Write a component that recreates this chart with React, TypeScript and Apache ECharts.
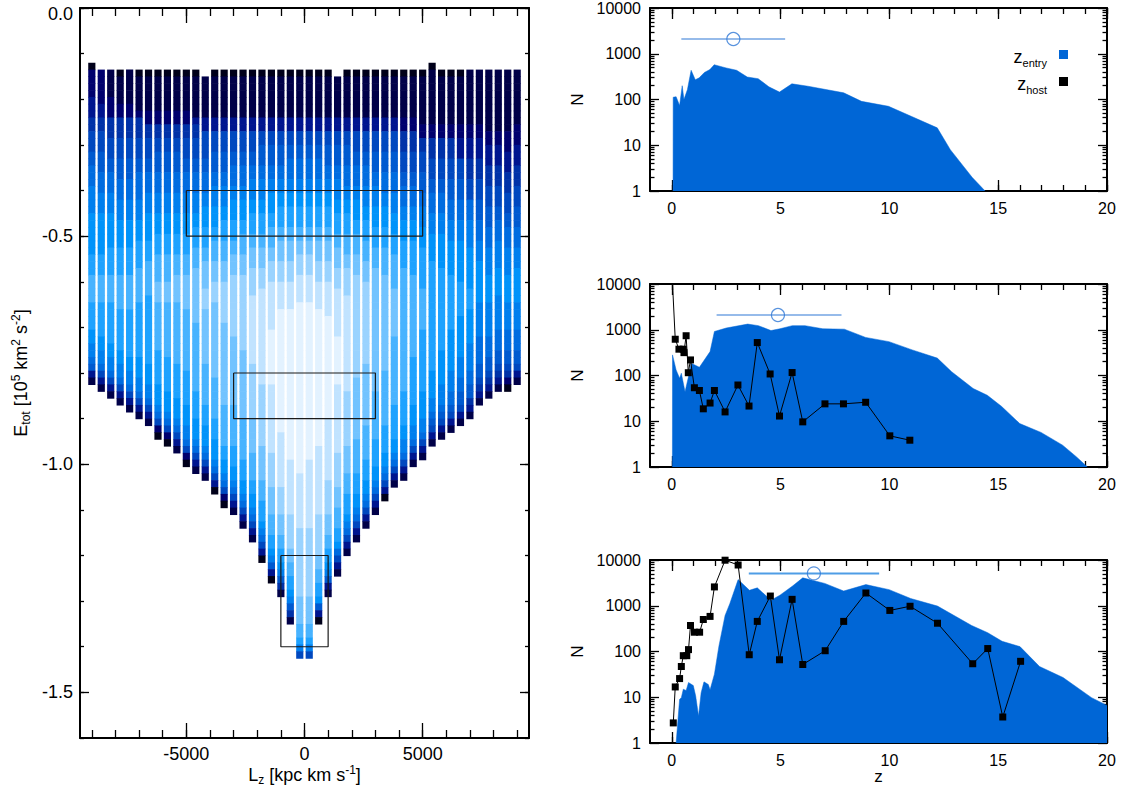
import React, { useEffect, useRef } from "react";
import * as echarts from "echarts";

const FONT = "'Liberation Sans', Arial, Helvetica, sans-serif";

// ---------------- Left panel: E_tot vs L_z density map ----------------
const LZ_CENTERS = [
  -9000, -8600, -8200, -7800, -7400, -7000, -6600, -6200, -5800, -5400, -5000, -4600,
  -4200, -3800, -3400, -3000, -2600, -2200, -1800, -1400, -1000, -600, -200,
  200, 600, 1000, 1400, 1800, 2200, 2600, 3000, 3400, 3800, 4200, 4600, 5000,
  5400, 5800, 6200, 6600, 7000, 7400, 7800, 8200, 8600, 9000,
];
// energy bin index (E = -index * E_BIN) of the first and one-past-last cell of each column
const TOP_ROW = [
  8, 9, 9, 9, 9, 9, 9, 9, 9, 9, 9, 9, 10, 9, 9, 9, 9, 9, 9, 9, 9, 9, 9,
  9, 9, 9, 10, 9, 9, 9, 9, 9, 9, 9, 9, 9, 8, 9, 9, 9, 9, 9, 9, 9, 9, 9,
];
const BOTTOM_ROW = [
  55, 56, 57, 58, 59, 60, 61, 63, 64, 65, 67, 68, 69, 71, 73, 74, 76, 78, 81, 84, 86, 90, 95,
  95, 90, 86, 83, 80, 78, 76, 74, 72, 70, 69, 67, 66, 64, 63, 62, 61, 60, 58, 57, 56, 56, 55,
];
const E_BIN = 0.015;
// per column: "row:level" breakpoints (level 0 = darkest ... f = lightest)
const PROFILES = [
  "8:0 9:2 13:3 16:4 18:5 21:6 23:7 26:8 30:9 36:a 39:b 43:a 47:9 49:8 51:7 52:6 53:3 54:1",
  "9:2 14:3 16:4 18:5 21:6 24:7 27:8 30:9 36:a 39:b 43:a 48:9 50:8 52:7 53:5 54:3 55:1",
  "9:1 13:2 16:4 19:5 22:6 24:7 27:8 30:9 35:a 39:b 43:a 49:9 51:8 53:7 54:5 55:3 56:1",
  "9:0 10:1 14:2 16:4 19:5 22:6 25:7 28:8 31:9 35:a 39:b 44:a 50:9 52:8 54:7 55:5 56:3 57:1",
  "9:1 14:2 16:4 19:5 22:6 25:7 28:8 31:9 35:a 39:b 44:a 51:9 53:8 55:7 56:5 57:3 58:1",
  "9:0 10:1 15:2 16:4 19:5 22:6 24:7 28:8 31:9 34:a 38:b 43:a 51:9 54:8 56:7 57:5 58:3 59:1",
  "9:0 10:1 15:2 17:4 19:5 22:6 24:7 27:8 30:9 34:a 37:b 42:a 52:9 55:8 57:7 58:5 59:3 60:1",
  "9:0 10:1 15:2 17:4 19:5 21:6 24:7 27:8 30:9 33:a 36:b 40:c 43:b 50:a 55:9 58:8 59:7 60:5 61:2 62:0",
  "9:0 10:1 15:2 17:4 19:5 21:6 24:7 27:8 30:9 33:a 36:b 40:c 43:b 51:a 56:9 59:8 60:7 61:5 62:2 63:0",
  "9:0 10:1 15:2 17:4 19:5 21:6 24:7 27:8 30:9 33:a 36:b 39:c 43:b 52:a 57:9 60:8 61:7 62:5 63:3 64:1",
  "9:0 10:1 15:2 17:4 19:5 22:6 24:7 27:8 30:9 33:a 36:b 39:c 44:b 53:a 58:9 61:8 63:7 64:5 65:2 66:0",
  "9:0 10:1 16:3 17:4 19:5 22:6 24:7 27:8 30:9 32:a 35:b 38:c 46:b 56:a 60:9 63:8 64:7 65:5 66:3 67:1",
  "10:1 16:3 18:5 22:6 24:7 27:8 29:9 32:a 35:b 37:c 41:d 44:c 52:b 58:a 61:9 64:8 65:7 66:5 67:3 68:1",
  "9:0 10:1 16:3 18:5 21:6 24:7 26:8 29:9 32:a 34:b 37:c 40:d 43:c 54:b 60:a 63:9 66:8 67:7 68:5 69:3 70:0",
  "9:0 10:1 16:3 18:5 21:6 24:7 26:8 29:9 31:a 34:b 37:c 40:d 46:c 58:b 64:a 66:9 68:8 69:7 70:5 71:2 72:0",
  "9:0 10:1 16:3 18:5 21:6 23:7 26:8 28:9 31:a 34:b 36:c 39:d 48:c 58:b 64:a 67:9 69:8 70:7 71:5 72:3 73:1",
  "9:0 10:1 16:3 18:5 21:6 23:7 26:8 28:9 31:a 33:b 36:c 39:d 50:c 60:b 66:a 69:9 71:8 72:7 73:5 74:3 75:1",
  "9:0 10:1 16:3 18:5 21:6 23:7 25:8 28:9 30:a 33:b 35:c 38:d 42:e 52:d 60:c 65:b 69:a 71:9 73:8 74:7 75:5 76:3 77:1",
  "9:0 10:1 16:3 18:5 20:6 23:7 25:8 28:9 30:a 33:b 35:c 38:d 41:e 55:d 64:c 69:b 72:a 75:9 76:8 77:7 78:5 79:3 80:0",
  "9:0 10:1 16:3 18:5 20:6 23:7 25:8 27:9 30:a 32:b 35:c 37:d 40:e 47:f 55:e 65:d 70:c 74:b 77:a 79:9 80:8 81:6 82:3 83:0",
  "9:0 10:1 16:3 18:5 20:6 23:7 25:8 27:9 29:a 32:b 34:c 37:d 40:e 44:f 62:e 70:d 74:c 77:b 79:a 81:9 82:8 83:6 84:4 85:1",
  "9:0 10:1 16:3 18:5 20:6 22:7 25:8 27:9 29:a 32:b 34:c 37:d 40:e 44:f 66:e 74:d 79:c 81:b 83:a 85:9 86:8 87:6 88:4 89:1",
  "9:0 10:1 16:3 18:5 20:6 22:7 25:8 27:9 29:a 32:b 34:c 36:d 39:e 43:f 68:e 76:d 86:c 90:b 92:a 93:8 94:5",
  "9:0 10:1 16:3 18:5 20:6 22:7 25:8 27:9 29:a 32:b 34:c 36:d 39:e 43:f 66:e 76:d 86:c 90:b 92:a 93:8 94:5",
  "9:0 10:1 16:3 18:5 20:6 22:7 25:8 27:9 29:a 32:b 34:c 37:d 40:e 44:f 64:e 74:d 80:c 82:b 84:a 86:9 87:6 88:3 89:0",
  "9:0 10:1 16:3 18:5 20:6 23:7 25:8 27:9 29:a 32:b 34:c 37:d 40:e 45:f 60:e 69:d 74:c 77:b 79:a 81:9 82:8 83:6 84:3 85:1",
  "10:1 16:3 18:5 20:6 23:7 25:8 28:9 30:a 33:b 35:c 38:d 41:e 48:f 55:e 65:d 70:c 73:b 76:a 78:9 79:7 80:5 81:3 82:1",
  "9:0 10:1 16:3 18:5 20:6 23:7 26:8 28:9 30:a 33:b 36:c 38:d 42:e 56:d 64:c 68:b 71:a 74:9 75:8 76:7 77:5 78:3 79:1",
  "9:0 10:1 16:3 18:5 21:6 23:7 26:8 28:9 31:a 33:b 36:c 39:d 54:c 63:b 68:a 71:9 73:8 74:7 75:5 76:3 77:1",
  "9:0 10:1 16:3 18:5 21:6 23:7 26:8 29:9 31:a 34:b 37:c 40:d 52:c 61:b 66:a 69:9 71:8 72:7 73:5 74:3 75:1",
  "9:0 10:1 16:3 18:5 21:6 24:7 26:8 29:9 32:a 35:b 38:c 56:b 63:a 67:9 69:8 70:7 71:5 72:3 73:1",
  "9:0 10:1 16:3 18:5 21:6 24:7 27:8 29:9 32:a 35:b 39:c 53:b 61:a 65:9 67:8 68:7 69:5 70:3 71:0",
  "9:0 10:1 16:3 18:5 21:6 24:7 27:8 30:9 33:a 36:b 41:c 48:b 58:a 63:9 65:8 66:7 67:5 68:3 69:1",
  "9:0 10:1 16:2 18:4 21:5 24:6 26:7 29:8 31:9 34:a 38:b 56:a 61:9 63:8 65:7 66:5 67:3 68:1",
  "9:0 10:1 16:2 18:4 21:5 24:6 26:7 29:8 31:9 34:a 39:b 51:a 58:9 61:8 63:7 64:5 65:3 66:1",
  "9:0 10:1 17:2 19:4 21:5 24:6 27:7 29:8 32:9 35:a 41:b 47:a 56:9 60:8 62:7 63:5 64:3 65:1",
  "8:0 9:1 17:2 19:4 22:5 25:6 27:7 30:8 33:9 37:a 53:9 57:8 59:7 60:6 61:5 62:3 63:1",
  "9:0 10:1 17:2 19:4 22:5 25:6 27:7 30:8 33:9 38:a 50:9 55:8 58:7 59:6 60:5 61:3 62:1",
  "9:0 10:1 17:2 19:4 22:5 25:6 28:7 31:8 34:9 39:a 47:9 53:8 56:7 58:6 59:5 60:3 61:1",
  "9:0 10:1 17:2 19:3 22:5 25:6 28:7 31:8 34:9 40:a 45:9 51:8 54:7 56:6 58:5 59:3 60:1",
  "9:1 17:2 19:3 22:4 25:5 28:7 31:8 35:9 41:a 44:9 49:8 53:7 55:6 57:4 58:3 59:1",
  "9:1 17:2 19:3 22:4 25:5 28:6 31:7 34:8 37:9 43:8 48:7 52:6 54:5 55:4 56:3 57:1",
  "9:1 18:2 20:3 23:4 26:5 29:6 32:7 35:8 39:9 43:8 48:7 51:6 53:5 54:4 55:3 56:1",
  "9:1 18:2 20:3 23:4 26:5 29:6 31:7 34:8 38:9 42:8 47:7 50:6 52:5 53:4 54:3 55:1",
  "9:1 18:2 21:3 24:4 27:5 30:6 32:7 35:8 39:9 43:8 47:7 50:6 52:5 53:4 54:2 55:0",
  "9:1 17:2 20:3 23:4 26:5 29:6 32:7 35:8 38:9 43:8 47:7 50:6 52:5 53:3 54:1",
];
const LEVEL_COLORS = [
  "#00001a", "#000048", "#00006e", "#00158f", "#0032a8", "#0048bf", "#005ad0", "#006ce0",
  "#007fee", "#0093fa", "#1ea2ff", "#48b3ff", "#72c3ff", "#9ad3ff", "#c1e3ff", "#e3f2ff",
];
// selection boxes: [Lz min, Lz max, E top, E bottom]
const BOXES = [
  [-5000, 5000, -0.4, -0.5],
  [-3000, 3000, -0.8, -0.9],
  [-1000, 1000, -1.2, -1.4],
];
const LZ_MAJOR = [-5000, 0, 5000];
const LZ_MINOR = [-9000, -8000, -7000, -6000, -5000, -4000, -3000, -2000, -1000, 0, 1000, 2000, 3000, 4000, 5000, 6000, 7000, 8000, 9000];
const E_MAJOR = [-1.5, -1.0, -0.5, 0.0];
const E_MINOR = [-1.6, -1.5, -1.4, -1.3, -1.2, -1.1, -1.0, -0.9, -0.8, -0.7, -0.6, -0.5, -0.4, -0.3, -0.2, -0.1, 0.0];

// ---------------- Right panels: N vs z ----------------
const Z_MAJOR = [0, 5, 10, 15, 20];
const Z_MINOR = [0, 1, 2, 3, 4, 5, 6, 7, 8, 9, 10, 11, 12, 13, 14, 15, 16, 17, 18, 19, 20];
const N_MAJOR = [1, 10, 100, 1000, 10000];
const N_MINOR = [2, 3, 4, 5, 6, 7, 8, 9, 20, 30, 40, 50, 60, 70, 80, 90, 200, 300, 400, 500, 600, 700, 800, 900, 2000, 3000, 4000, 5000, 6000, 7000, 8000, 9000];

const P1_ENTRY_Z = [0.06, 0.066, 0.2, 0.36, 0.48, 0.56, 0.72, 0.89, 1.08, 1.26, 1.5, 1.75, 1.95, 2.5, 2.98, 3.47, 3.97, 4.46, 4.95, 5.52, 6.26, 7.9, 8.72, 9.96, 11.0, 12.2, 12.8, 13.8, 14.4];
const P1_ENTRY_N = [1, 112, 115, 74, 200, 100, 165, 435, 270, 297, 390, 450, 575, 490, 435, 310, 285, 190, 145, 220, 195, 140, 91, 71, 43, 24, 8, 2, 1];
const P1_MEAN = [2.83, 2100];
const P1_RANGE = [0.44, 5.21];

const P2_ENTRY_Z = [0.03, 0.035, 0.2, 0.36, 0.44, 0.61, 0.77, 0.89, 1.27, 1.76, 1.96, 2.5, 3.49, 3.98, 4.56, 4.97, 5.54, 6.12, 6.94, 7.93, 8.91, 9.98, 11.05, 12.2, 12.86, 13.85, 14.5, 15.16, 15.99, 16.97, 17.96, 18.6, 19.1];
const P2_ENTRY_N = [1, 282, 132, 87, 112, 44, 95, 186, 151, 333, 917, 1090, 1330, 1230, 960, 1050, 1230, 1230, 1050, 1030, 680, 550, 363, 240, 121, 52, 37, 21, 8.9, 5.7, 3, 1.66, 1];
const P2_HOST_Z = [0.0, 0.16, 0.33, 0.53, 0.56, 0.66, 0.76, 0.86, 1.04, 1.27, 1.45, 1.76, 1.96, 2.45, 3.04, 3.55, 3.93, 4.52, 4.95, 5.53, 6.02, 7.04, 7.89, 8.91, 10.02, 10.94];
const P2_HOST_N = [22000, 620, 376, 376, 316, 740, 115, 219, 54, 47, 18.7, 25, 47, 16, 62, 21.5, 525, 108, 13, 116, 9.7, 24, 24, 26, 4.8, 3.85];
const P2_MEAN = [4.88, 2100];
const P2_RANGE = [2.06, 7.8];

const P3_ENTRY_Z = [0.2, 0.36, 0.44, 0.53, 0.66, 0.77, 0.99, 1.1, 1.23, 1.35, 1.48, 1.68, 1.76, 1.96, 2.17, 2.45, 2.67, 3.05, 3.57, 3.93, 4.56, 4.97, 5.55, 6.02, 7.03, 7.9, 8.92, 9.99, 10.98, 12.21, 13.78, 14.52, 15.18, 16.0, 16.9, 17.98, 19.29, 20];
const P3_ENTRY_N = [1, 9, 9.8, 15, 14, 21, 18, 10.6, 3.9, 12.6, 21.7, 19, 14.5, 32, 134, 615, 1120, 3730, 2180, 2460, 1320, 1700, 2700, 4070, 3080, 2100, 2900, 2250, 1440, 985, 370, 257, 167, 128, 47, 27, 9.8, 6.6];
const P3_HOST_Z = [0.07, 0.16, 0.36, 0.44, 0.53, 0.69, 0.77, 0.86, 1.04, 1.28, 1.45, 1.76, 1.96, 2.45, 3.05, 3.56, 3.93, 4.53, 4.95, 5.53, 6.02, 7.05, 7.9, 8.92, 10.02, 10.95, 12.21, 13.83, 14.52, 15.21, 16.03];
const P3_HOST_N = [2.75, 16.8, 25.6, 47, 81, 81, 110, 370, 264, 264, 500, 585, 2580, 9900, 7770, 85, 455, 1630, 66, 1380, 52, 104, 455, 1900, 790, 975, 415, 54, 116, 3.7, 61];
const P3_MEAN = [6.53, 5100];
const P3_RANGE = [3.54, 9.53];

// ---------------- helpers ----------------
const zip = (a: number[], b: number[]) => a.map((v, i) => [v, b[i]]);

function buildCells() {
  const cells: number[][] = [];
  LZ_CENTERS.forEach((lz, i) => {
    const bps = PROFILES[i].split(" ").map((s) => {
      const [r, l] = s.split(":");
      return [Number(r), parseInt(l, 16)];
    });
    let k = 0;
    for (let row = TOP_ROW[i]; row < BOTTOM_ROW[i]; row++) {
      while (k + 1 < bps.length && bps[k + 1][0] <= row) k++;
      cells.push([lz, -row * E_BIN, -(row + 1) * E_BIN, bps[k][1]]);
    }
  });
  return cells;
}

const richName = (size: number, sub: number) => ({
  b: { fontSize: size, fontFamily: FONT, color: "#000", lineHeight: size + 4, verticalAlign: "middle" },
  s: { fontSize: sub, fontFamily: FONT, color: "#000", lineHeight: sub + 1, verticalAlign: "bottom" },
  p: { fontSize: sub, fontFamily: FONT, color: "#000", lineHeight: sub + 1, verticalAlign: "top" },
});

function makeAxis(
  grid: number,
  position: string,
  scale: any,
  ticks: number[],
  tickLen: number,
  withLine: boolean,
  label: any,
  name?: any
) {
  return {
    ...scale,
    gridIndex: grid,
    position,
    ...(name || {}),
    nameMoveOverlap: false,
    axisLine: { show: withLine, onZero: false, lineStyle: { color: "#000", width: 2 } },
    axisTick: { show: true, inside: true, length: tickLen, customValues: ticks, lineStyle: { color: "#000", width: 1.3 } },
    axisLabel: label ? { ...label, customValues: ticks } : { show: false },
    splitLine: { show: false },
    minorTick: { show: false },
    axisPointer: { show: false },
  };
}

export default function App() {
  const ref = useRef<HTMLDivElement>(null);
  useEffect(() => {
    if (!ref.current) return;
    const chart = echarts.init(ref.current, undefined, { renderer: "svg" });

    const cells = buildCells();
    const HALF_W = 152;

    const leftX = { type: "value", min: -9500, max: 9500 };
    const leftY = { type: "value", min: -1.6, max: 0 };
    const zX = { type: "value", min: -1, max: 20 };
    const nY = { type: "log", logBase: 10, min: 1, max: 10000 };

    const leftLabel = { fontSize: 18, fontFamily: FONT, color: "#000", margin: 7 };
    const rightLabel = { fontSize: 16, fontFamily: FONT, color: "#000", margin: 9 };

    const xAxis: any[] = [];
    const yAxis: any[] = [];
    // grid 0 (left)
    xAxis.push(
      makeAxis(0, "bottom", leftX, LZ_MAJOR, 15, true, { ...leftLabel, formatter: (v: number) => String(v) }, {
        name: "{b|L}{s|z}{b| [kpc km s}{p|-1}{b|]}",
        nameLocation: "middle",
        nameGap: 26,
        nameTextStyle: { rich: richName(18, 12) },
      }),
      makeAxis(0, "bottom", leftX, LZ_MINOR, 8, false, null),
      makeAxis(0, "top", leftX, LZ_MAJOR, 15, true, null),
      makeAxis(0, "top", leftX, LZ_MINOR, 8, false, null)
    );
    yAxis.push(
      makeAxis(0, "left", leftY, E_MAJOR, 9, true, {
        ...leftLabel,
        formatter: (v: number) => (Math.abs(v) < 1e-9 ? "{t|0.0}" : v.toFixed(1)),
        rich: { t: { fontSize: 18, fontFamily: FONT, color: "#000", padding: [11, 0, 0, 0] } },
      }, {
        name: "{b|E}{s|tot}{b| [10}{p|5}{b| km}{p|2}{b| s}{p|-2}{b|]}",
        nameLocation: "middle",
        nameGap: 48,
        nameRotate: 90,
        nameTextStyle: { rich: richName(18, 12) },
      }),
      makeAxis(0, "left", leftY, E_MINOR, 4, false, null),
      makeAxis(0, "right", leftY, E_MAJOR, 9, true, null),
      makeAxis(0, "right", leftY, E_MINOR, 4, false, null)
    );
    for (let g = 1; g <= 3; g++) {
      xAxis.push(
        makeAxis(g, "bottom", zX, Z_MAJOR, 11, true, { ...rightLabel, formatter: (v: number) => String(v) },
          g === 3
            ? { name: "z", nameLocation: "middle", nameGap: 25, nameTextStyle: { fontSize: 17, fontFamily: FONT, color: "#000" } }
            : undefined),
        makeAxis(g, "bottom", zX, Z_MINOR, 6, false, null),
        makeAxis(g, "top", zX, Z_MAJOR, 11, true, null),
        makeAxis(g, "top", zX, Z_MINOR, 6, false, null)
      );
      yAxis.push(
        makeAxis(g, "left", nY, N_MAJOR, 9, true, { ...rightLabel, formatter: (v: number) => String(Math.round(v)) }, {
          name: "N",
          nameLocation: "middle",
          nameGap: 64,
          nameRotate: 90,
          nameTextStyle: { fontSize: 17, fontFamily: FONT, color: "#000" },
        }),
        makeAxis(g, "left", nY, N_MINOR, 4.5, false, null),
        makeAxis(g, "right", nY, N_MAJOR, 9, true, null),
        makeAxis(g, "right", nY, N_MINOR, 4.5, false, null)
      );
    }

    const series: any[] = [];
    series.push({
      type: "custom",
      xAxisIndex: 0,
      yAxisIndex: 0,
      data: cells,
      dimensions: ["lz", "e0", "e1", "lev"],
      encode: { x: 0, y: [1, 2] },
      clip: true,
      silent: true,
      renderItem: (_p: any, api: any) => {
        const lz = api.value(0);
        const a = api.coord([lz - HALF_W, api.value(1)]);
        const b = api.coord([lz + HALF_W, api.value(2)]);
        return {
          type: "rect",
          shape: { x: a[0], y: a[1], width: b[0] - a[0], height: b[1] - a[1] + 0.6 },
          style: { fill: LEVEL_COLORS[api.value(3)] },
        };
      },
      z: 1,
    });
    BOXES.forEach((bx) => {
      series.push({
        type: "line",
        xAxisIndex: 0,
        yAxisIndex: 0,
        data: [
          [bx[0], bx[2]],
          [bx[1], bx[2]],
          [bx[1], bx[3]],
          [bx[0], bx[3]],
          [bx[0], bx[2]],
        ],
        symbol: "none",
        lineStyle: { color: "#1a1a1a", width: 1.2 },
        silent: true,
        z: 5,
      });
    });

    const entry = [
      zip(P1_ENTRY_Z, P1_ENTRY_N),
      zip(P2_ENTRY_Z, P2_ENTRY_N),
      zip(P3_ENTRY_Z, P3_ENTRY_N),
    ];
    const host = [null, zip(P2_HOST_Z, P2_HOST_N), zip(P3_HOST_Z, P3_HOST_N)];
    const means = [P1_MEAN, P2_MEAN, P3_MEAN];
    const ranges = [P1_RANGE, P2_RANGE, P3_RANGE];
    const BLUE = "#0066d6";
    for (let g = 1; g <= 3; g++) {
      const xi = 4 * g;
      series.push({
        type: "line",
        xAxisIndex: xi,
        yAxisIndex: xi,
        data: entry[g - 1],
        symbol: "none",
        lineStyle: { color: BLUE, width: 0.5 },
        areaStyle: { color: BLUE, opacity: 1, origin: "start" },
        clip: true,
        silent: true,
        z: 2,
      });
      const h = host[g - 1];
      if (h) {
        series.push({
          type: "line",
          xAxisIndex: xi,
          yAxisIndex: xi,
          data: h,
          symbol: "rect",
          symbolSize: 7,
          itemStyle: { color: "#000" },
          lineStyle: { color: "#000", width: 1 },
          clip: true,
          silent: true,
          z: 4,
        });
      }
      const m = means[g - 1];
      const r = ranges[g - 1];
      const ebColor = g === 3 ? "#4f9de6" : "#2f78d6";
      series.push({
        type: "line",
        xAxisIndex: xi,
        yAxisIndex: xi,
        data: [
          [r[0], m[1]],
          [r[1], m[1]],
        ],
        symbol: "none",
        lineStyle: { color: ebColor, width: g === 3 ? 2 : 1.2 },
        silent: true,
        z: 5,
      });
      series.push({
        type: "scatter",
        xAxisIndex: xi,
        yAxisIndex: xi,
        data: [m],
        symbol: "circle",
        symbolSize: 13,
        itemStyle: { color: "rgba(255,255,255,0)", borderColor: "#2f78d6", borderWidth: 1.2 },
        silent: true,
        z: 6,
      });
    }

    const legendRich = {
      b: { fontSize: 18, fontFamily: FONT, color: "#000", lineHeight: 22, verticalAlign: "middle" },
      s: { fontSize: 11, fontFamily: FONT, color: "#000", lineHeight: 12, verticalAlign: "bottom" },
    };

    chart.setOption({
      animation: false,
      backgroundColor: "#fff",
      textStyle: { fontFamily: FONT },
      grid: [
        { left: 80, top: 8, width: 449, height: 730, outerBoundsMode: "none" },
        { left: 650, top: 8, width: 457, height: 183, outerBoundsMode: "none" },
        { left: 650, top: 284, width: 457, height: 183, outerBoundsMode: "none" },
        { left: 650, top: 560, width: 457, height: 183, outerBoundsMode: "none" },
      ],
      xAxis,
      yAxis,
      series,
      graphic: [
        { type: "text", x: 1047, y: 57, style: { text: "{b|z}{s|entry}", align: "right", verticalAlign: "middle", rich: legendRich } },
        { type: "rect", shape: { x: 1059, y: 50, width: 9, height: 9 }, style: { fill: BLUE } },
        { type: "text", x: 1047, y: 84, style: { text: "{b|z}{s|host}", align: "right", verticalAlign: "middle", rich: legendRich } },
        { type: "rect", shape: { x: 1059, y: 77, width: 9, height: 9 }, style: { fill: "#000" } },
      ],
    });
    return () => chart.dispose();
  }, []);
  return (
    <div
      ref={ref}
      style={{ position: "fixed", left: 0, top: 0, width: 1123, height: 788, background: "#fff" }}
    />
  );
}
